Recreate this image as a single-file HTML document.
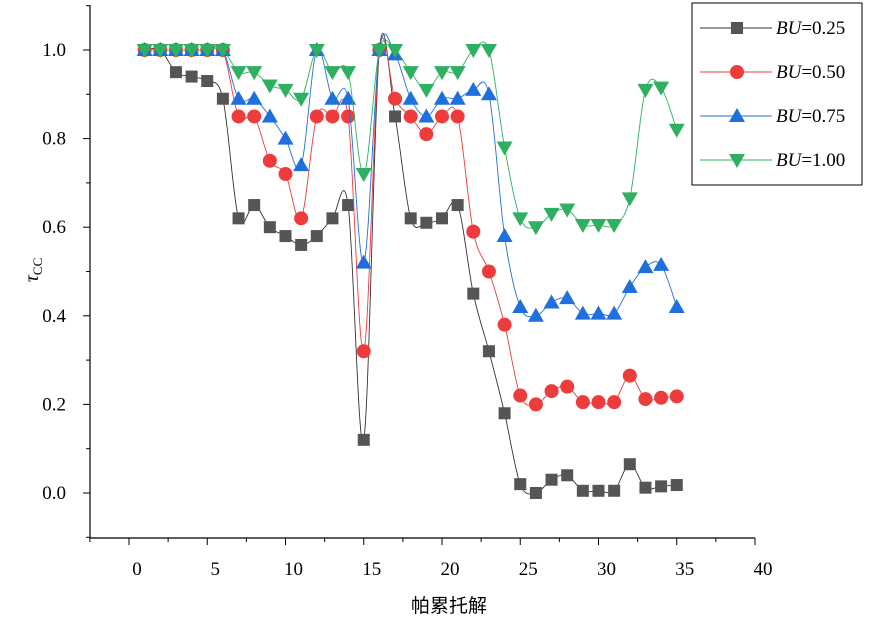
<!DOCTYPE html>
<html><head><meta charset="utf-8"><style>
body{margin:0;background:#fff}
svg{display:block;font-family:"Liberation Serif","Noto Serif CJK SC",serif}
</style></head><body>
<svg width="870" height="622" viewBox="0 0 870 622">
<g id="axes"></g><g id="series"></g><g id="legend"></g>
<text x="449" y="612" text-anchor="middle" font-size="19" font-family="'Noto Sans CJK SC',sans-serif">帕累托解</text>
<text transform="translate(38,270) rotate(-90)" text-anchor="middle" font-size="20"><tspan font-style="italic">τ</tspan><tspan font-size="13" dy="4">CC</tspan></text>
</svg>
<script>
const xs=[1,2,3,4,5,6,7,8,9,10,11,12,13,14,15,16,17,18,19,20,21,22,23,24,25,26,27,28,29,30,31,32,33,34,35];
const s025=[1,1,0.95,0.94,0.93,0.89,0.62,0.65,0.60,0.58,0.56,0.58,0.62,0.65,0.12,1.0,0.85,0.62,0.61,0.62,0.65,0.45,0.32,0.18,0.02,0.0,0.03,0.04,0.005,0.005,0.005,0.065,0.012,0.015,0.018];
const s050=[1,1,1,1,1,1,0.85,0.85,0.75,0.72,0.62,0.85,0.85,0.85,0.32,1,0.89,0.85,0.81,0.85,0.85,0.59,0.50,0.38,0.22,0.20,0.23,0.24,0.205,0.205,0.205,0.265,0.212,0.215,0.218];
const s075=[1,1,1,1,1,1,0.89,0.89,0.85,0.80,0.74,1.0,0.89,0.89,0.52,1,0.99,0.89,0.85,0.89,0.89,0.91,0.90,0.58,0.42,0.40,0.43,0.44,0.405,0.405,0.405,0.465,0.51,0.515,0.42];
const s100=[1,1,1,1,1,1,0.95,0.95,0.92,0.91,0.89,1.0,0.95,0.95,0.72,1,1,0.95,0.91,0.95,0.95,1.0,1.0,0.78,0.62,0.60,0.63,0.64,0.605,0.605,0.605,0.665,0.91,0.915,0.82];
const xTicks=[0,5,10,15,20,25,30,35,40];
const yTicks=[0,0.2,0.4,0.6,0.8,1.0];
const labels=["0.25","0.50","0.75","1.00"];
const NS="http://www.w3.org/2000/svg";
const X=v=>129+v*15.65, Y=v=>493-v*443;
function mk(t,a,p){const e=document.createElementNS(NS,t);for(const k in a)e.setAttribute(k,a[k]);p.appendChild(e);return e;}
const ax=document.getElementById('axes');
const al=mk('line',{x1:90,y1:5,x2:90,y2:538,stroke:'#000','stroke-width':1.2},ax);


const ab=mk('line',{x1:90,y1:538,x2:X(40),y2:538,stroke:'#000','stroke-width':1.2},ax);


for(let v=-2.5;v<=40;v+=2.5){const maj=v%5===0;mk('line',{x1:X(v),x2:X(v),y1:538,y2:538+(maj?7:4),stroke:'#000'},ax);}
xTicks.forEach(v=>{const t=mk('text',{x:X(v)+8,y:575,'text-anchor':'middle','font-size':19},ax);t.textContent=v;

});
for(let i=-1;i<=11;i++){const v=i/10;const maj=i%2===0&&i>=0;mk('line',{x1:90-(maj?7:4),x2:90,y1:Y(v),y2:Y(v),stroke:'#000'},ax);}
yTicks.forEach(v=>{const t=mk('text',{x:66,y:Y(v)+6,'text-anchor':'end','font-size':19},ax);t.textContent=v.toFixed(1);

});
function path(pts){let d=`M${pts[0][0]},${pts[0][1]}`;for(let i=0;i<pts.length-1;i++){const p0=pts[i-1]||pts[i],p1=pts[i],p2=pts[i+1],p3=pts[i+2]||p2;
d+=` C${p1[0]+(p2[0]-p0[0])/6},${p1[1]+(p2[1]-p0[1])/6} ${p2[0]-(p3[0]-p1[0])/6},${p2[1]-(p3[1]-p1[1])/6} ${p2[0]},${p2[1]}`;}return d;}
function marker(type,x,y,col,g){
if(type===0)return mk('rect',{x:x-6,y:y-6,width:12,height:12,fill:col},g);
if(type===1)return mk('circle',{cx:x,cy:y,r:7,fill:col},g);
if(type===2)return mk('polygon',{points:`${x},${y-8} ${x+8},${y+6} ${x-8},${y+6}`,fill:col},g);
return mk('polygon',{points:`${x},${y+8} ${x+8},${y-6} ${x-8},${y-6}`,fill:col},g);}
const cols=['#555','#ee3b3b','#1f6fdc','#2eb060'];
const lcols=['#333','#ee3b3b','#1f6fdc','#2eb060'];
const sg=document.getElementById('series');
[s025,s050,s075,s100].forEach((s,k)=>{
const g=mk('g',{},sg);


mk('path',{d:path(xs.map((x,i)=>[X(x),Y(s[i])])),fill:'none',stroke:lcols[k],'stroke-width':0.9},g);
xs.forEach((x,i)=>{const m=marker(k,X(x),Y(s[i]),cols[k],g);

});
});
const lg=document.getElementById('legend');
const box=mk('rect',{x:692,y:3,width:170,height:182,fill:'#fff',stroke:'#000','stroke-width':1},lg);


labels.forEach((l,k)=>{const y=28+k*44;
mk('line',{x1:700,x2:772,y1:y,y2:y,stroke:lcols[k],'stroke-width':0.9},lg);
marker(k,737,y,cols[k],lg);
const t=mk('text',{x:776,y:y+6,'font-size':19},lg);
t.innerHTML='<tspan font-style="italic">BU</tspan>='+l;

});
</script>
</body></html>
